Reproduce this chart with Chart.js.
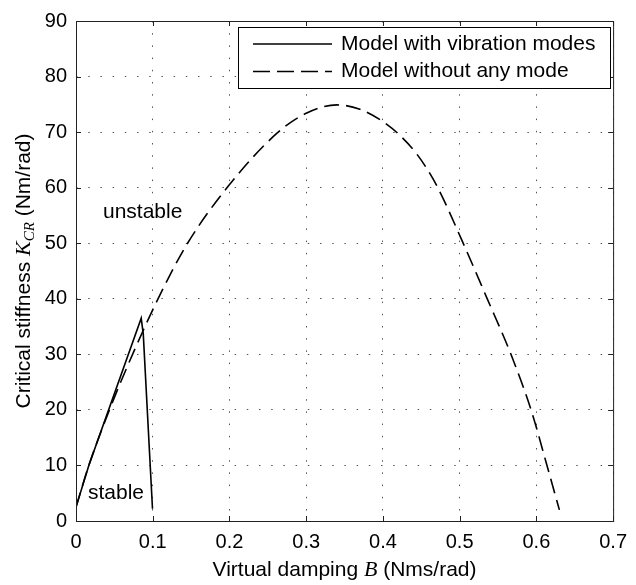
<!DOCTYPE html>
<html>
<head>
<meta charset="utf-8">
<script src="https://cdn.jsdelivr.net/npm/chart.js@4.4.1/dist/chart.umd.min.js"></script>
<style>
  html, body { margin: 0; padding: 0; background: #fff; }
  #wrap { width: 636px; height: 585px; }
</style>
</head>
<body>
<div id="wrap"><canvas id="kcrChart" width="636" height="585"></canvas></div>
<script>
// damping B (Nms/rad) vs critical stiffness K_CR (Nm/rad)
const dampWithModes = [0, 0.0167, 0.085, 0.0877, 0.0997];
const stiffWithModes = [2.5, 10, 36.5, 33.6, 2.2];

const dampNoMode = [0, 0.0167, 0.045, 0.075, 0.108, 0.145, 0.198, 0.262, 0.300, 0.340,
  0.370, 0.400, 0.420, 0.445, 0.470, 0.503, 0.535, 0.568, 0.594, 0.613, 0.630];
const stiffNoMode = [2.5, 10, 20.5, 30.4, 40.3, 49.9, 60.2, 69.8, 73.4, 74.9,
  74.1, 71.9, 69.7, 65.9, 60.4, 50.5, 40.3, 29.6, 19.6, 10.4, 2.0];

const xTicks = [0, 0.1, 0.2, 0.3, 0.4, 0.5, 0.6, 0.7];
const yTicks = [0, 10, 20, 30, 40, 50, 60, 70, 80, 90];

const seriesNames = ['Model with vibration modes', 'Model without any mode'];

const sans = '"Liberation Sans", Arial, Helvetica, sans-serif';
const serif = '"Liberation Serif", "DejaVu Serif", serif';

function toPoints(xs, ys) {
  return xs.map((x, i) => ({ x: x, y: ys[i] }));
}

// draw a run of text pieces with different fonts, returns width
function drawRuns(ctx, runs, x, y, measureOnly) {
  let w = 0;
  runs.forEach(r => {
    ctx.font = r.font;
    if (!measureOnly) ctx.fillText(r.text, x + w, y + (r.dy || 0));
    w += ctx.measureText(r.text).width;
  });
  return w;
}

const framePlugin = {
  id: 'frame',
  afterDraw(chart) {
    const ctx = chart.ctx;
    const a = chart.chartArea;
    const xs = chart.scales.x, ys = chart.scales.y;
    ctx.save();
    ctx.strokeStyle = '#222';
    ctx.lineWidth = 1;
    ctx.setLineDash([]);
    // box
    ctx.strokeRect(a.left + 0.5, a.top + 0.5, a.right - a.left, a.bottom - a.top);
    // inward ticks
    const tl = 5;
    ctx.beginPath();
    xTicks.forEach(v => {
      const px = Math.round(xs.getPixelForValue(v)) + 0.5;
      ctx.moveTo(px, a.bottom); ctx.lineTo(px, a.bottom - tl);
      ctx.moveTo(px, a.top); ctx.lineTo(px, a.top + tl);
    });
    yTicks.forEach(v => {
      const py = Math.round(ys.getPixelForValue(v)) + 0.5;
      ctx.moveTo(a.left, py); ctx.lineTo(a.left + tl, py);
      ctx.moveTo(a.right, py); ctx.lineTo(a.right - tl, py);
    });
    ctx.stroke();

    // legend
    const lx = 238.5, ly = 27.5, lw = 372, lh = 61;
    ctx.fillStyle = '#fff';
    ctx.fillRect(lx, ly, lw, lh);
    ctx.strokeStyle = '#000';
    ctx.strokeRect(lx, ly, lw, lh);
    ctx.lineWidth = 1.6;
    ctx.beginPath();
    ctx.moveTo(253, 44); ctx.lineTo(332, 44);
    ctx.stroke();
    ctx.setLineDash([17, 7]);
    ctx.beginPath();
    ctx.moveTo(253, 71.5); ctx.lineTo(332, 71.5);
    ctx.stroke();
    ctx.setLineDash([]);
    ctx.fillStyle = '#000';
    ctx.font = '21px ' + sans;
    ctx.textBaseline = 'middle';
    ctx.textAlign = 'left';
    ctx.fillText(seriesNames[0], 341, 44);
    ctx.fillText(seriesNames[1], 341, 71);

    // region labels
    ctx.fillText('unstable', 103, 212);
    ctx.fillText('stable', 88, 493);

    // x axis title
    const xRuns = [
      { text: 'Virtual damping ', font: '21px ' + sans },
      { text: 'B', font: 'italic 22px ' + serif },
      { text: ' (Nms/rad)', font: '21px ' + sans }
    ];
    ctx.textBaseline = 'alphabetic';
    const xw = drawRuns(ctx, xRuns, 0, 0, true);
    drawRuns(ctx, xRuns, (a.left + a.right) / 2 - xw / 2, 576);

    // y axis title
    const yRuns = [
      { text: 'Critical stiffness ', font: '21px ' + sans },
      { text: 'K', font: 'italic 22px ' + serif },
      { text: 'CR', font: 'italic 15px ' + serif, dy: 4 },
      { text: ' (Nm/rad)', font: '21px ' + sans }
    ];
    const yw = drawRuns(ctx, yRuns, 0, 0, true);
    ctx.translate(30, (a.top + a.bottom) / 2);
    ctx.rotate(-Math.PI / 2);
    drawRuns(ctx, yRuns, -yw / 2, 0);
    ctx.restore();
  }
};

new Chart(document.getElementById('kcrChart'), {
  type: 'line',
  data: {
    datasets: [{
      label: seriesNames[0],
      data: toPoints(dampWithModes, stiffWithModes),
      borderColor: '#000',
      borderWidth: 1.6,
      pointRadius: 0,
      tension: 0,
      fill: false
    }, {
      label: seriesNames[1],
      data: toPoints(dampNoMode, stiffNoMode),
      borderColor: '#000',
      borderWidth: 1.6,
      borderDash: [15, 7],
      pointRadius: 0,
      cubicInterpolationMode: 'monotone',
      fill: false
    }]
  },
  options: {
    responsive: false,
    animation: false,
    events: [],
    layout: { padding: { left: 0, right: 15, top: 14, bottom: 0 } },
    plugins: {
      legend: { display: false },
      tooltip: { enabled: false }
    },
    scales: {
      x: {
        type: 'linear',
        min: 0,
        max: 0.7,
        afterBuildTicks: s => { s.ticks = xTicks.map(v => ({ value: v })); },
        afterFit: s => { s.height = 64; },
        ticks: {
          color: '#000',
          padding: 9,
          font: { family: sans, size: 20 },
          maxRotation: 0,
          callback: v => v === 0 ? '0' : v.toFixed(1)
        },
        grid: { color: '#555', lineWidth: 1, drawTicks: false },
        border: { display: false, dash: [1.5, 10.7] }
      },
      y: {
        type: 'linear',
        min: 0,
        max: 90,
        afterBuildTicks: s => { s.ticks = yTicks.map(v => ({ value: v })); },
        afterFit: s => { s.width = 76; },
        ticks: {
          color: '#000',
          padding: 9,
          font: { family: sans, size: 20 },
          callback: v => String(v)
        },
        grid: { color: '#555', lineWidth: 1, drawTicks: false },
        border: { display: false, dash: [1.5, 10.7] }
      }
    }
  },
  plugins: [framePlugin]
});
</script>
</body>
</html>
